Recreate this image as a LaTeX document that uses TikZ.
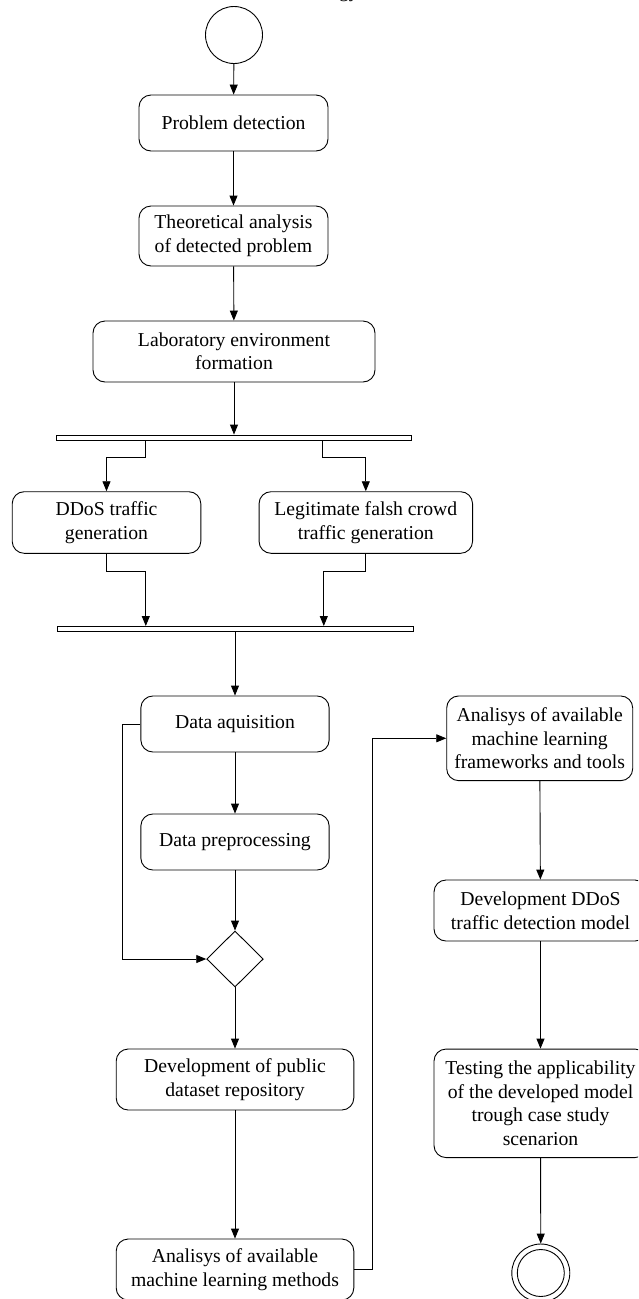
\documentclass[tikz,border=0pt]{standalone}
\usepackage{fontspec}
\setmainfont{Liberation Serif}
\usetikzlibrary{arrows.meta,shapes.geometric,calc}
\tikzset{
  every node/.style={font=\fontsize{19.7pt}{23.5pt}\selectfont},
  act/.style={draw, line width=0.9pt, rounded corners=12pt, align=center, inner sep=0pt},
  bar/.style={draw, line width=0.9pt, fill=white, inner sep=0pt},
  arr/.style={line width=0.9pt, -{Triangle[width=8pt,length=10pt]}},
  ln/.style={line width=0.9pt}
}
\begin{document}
\begin{tikzpicture}[x=1pt,y=-1pt]
\useasboundingbox (0,0) rectangle (638,1299);
\clip (0,0) rectangle (638,1299);
% caption fragment at the top (clipped)
\node[anchor=base east, inner sep=0pt] (cap) at (359,-3) {methodology};
% nodes
\node[circle, draw, line width=0.9pt, minimum size=57pt, inner sep=0pt] (start) at (234,35) {};
\node[act, minimum width=189pt, minimum height=56pt] (p1) at (233.5,123) {Problem detection};
\node[act, minimum width=189pt, minimum height=60pt] (p2) at (233.5,236) {Theoretical analysis\\of detected problem};
\node[act, minimum width=282pt, minimum height=61pt] (p3) at (234,351.5) {Laboratory environment\\formation};
\node[bar, minimum width=355pt, minimum height=5pt] (bar1) at (233.5,437.5) {};
\node[act, minimum width=188.6pt, minimum height=61.6pt] (ddos) at (106.5,522.5) {DDoS traffic\\generation};
\node[act, minimum width=213.5pt, minimum height=61.6pt] (legit) at (365.8,522.5) {Legitimate falsh crowd\\traffic generation};
\node[bar, minimum width=356pt, minimum height=5pt] (bar2) at (235,628.5) {};
\node[act, minimum width=188.3pt, minimum height=56pt] (acq) at (235,724) {Data aquisition};
\node[act, minimum width=188.3pt, minimum height=56pt] (pre) at (235,842) {Data preprocessing};
\node[diamond, draw, line width=0.9pt, minimum width=56.6pt, minimum height=56pt, inner sep=0pt] (dec) at (235,959) {};
\node[act, minimum width=237.6pt, minimum height=61pt] (pub) at (235,1079.5) {Development of public\\dataset repository};
\node[act, minimum width=237.6pt, minimum height=61pt] (meth) at (235,1269.5) {Analisys of available\\machine learning methods};
\node[act, minimum width=186pt, minimum height=84.7pt] (fw) at (539.7,738.3) {Analisys of available\\machine learning\\frameworks and tools};
\node[act, minimum width=213pt, minimum height=61pt] (model) at (540.5,910.5) {Development DDoS\\traffic detection model};
\node[act, minimum width=213pt, minimum height=108.5pt] (test) at (540.5,1103.3) {Testing the applicability\\of the developed model\\trough case study\\scenarion};
\node[circle, draw, line width=0.9pt, minimum size=58pt, inner sep=0pt] (end) at (540.8,1273) {};
\node[circle, draw, line width=0.9pt, minimum size=47pt, inner sep=0pt] (endin) at (540.8,1273) {};
% coordinates on the bars
\coordinate (f1a) at (145,440);
\coordinate (f1b) at (322.6,440);
\coordinate (j1) at (145.8,626);
\coordinate (j2) at (323.8,626);
% connectors
\draw[arr] (start) -- (p1);
\draw[arr] (p1) -- (p2);
\draw[arr] (p2) -- (p3);
\draw[arr] (p3.south) -- (p3.south |- bar1.north);
\draw[arr] (f1a) -- ++(0,17.7) -| (ddos.north);
\draw[arr] (f1b) -- ++(0,17.7) -| (legit.north);
\draw[arr] (ddos.south) -- ++(0,17.4) -| (j1);
\draw[arr] (legit.south) -- ++(0,17.4) -| (j2);
\draw[arr] (bar2.south) -- (acq.north);
\draw[arr] (acq) -- (pre);
\draw[arr] (pre) -- (dec);
\draw[arr] (acq.west) -- ++(-17.5,0) |- (dec.west);
\draw[arr] (dec) -- (pub);
\draw[arr] (pub) -- (meth);
\draw[arr] (meth.east) -- ++(18,0) |- (fw.west);
\draw[arr] (fw) -- (model);
\draw[arr] (model) -- (test);
\draw[arr] (test) -- (end);
\end{tikzpicture}
\end{document}
